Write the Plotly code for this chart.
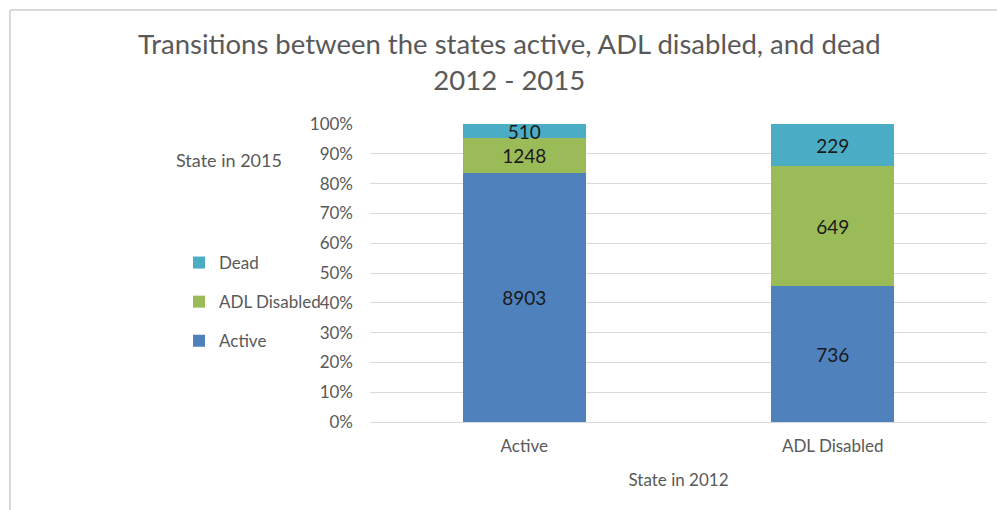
import plotly.graph_objects as go

# Counts of people by state in 2012 (categories) and state in 2015 (series)
states_2012 = ["Active", "ADL Disabled"]
active_2015 = [8903, 736]
adl_2015 = [1248, 649]
dead_2015 = [510, 229]
y_ticks = [0, 10, 20, 30, 40, 50, 60, 70, 80, 90, 100]
y_tick_text = [f"{v}%" for v in y_ticks]

FONT = "Lato"
TXT = "#595959"

W, H = 997, 510
L, R, T, B = 370, 10, 124, 88
pw, ph = W - L - R, H - T - B


def px_x(x):
    return (x - L) / pw


def px_y(y):
    return (H - B - y) / ph


# (name, values, colour, legend rank) - legend lists Dead first
series = [
    ("Active", active_2015, "#4f81bd", 3),
    ("ADL Disabled", adl_2015, "#9bbb59", 2),
    ("Dead", dead_2015, "#4bacc6", 1),
]

fig = go.Figure()
for name, vals, color, rank in series:
    fig.add_trace(go.Bar(
        name=name,
        x=states_2012,
        y=vals,
        text=vals,
        texttemplate="%{text}",
        textposition="inside",
        insidetextanchor="middle",
        constraintext="none",
        textfont=dict(family=FONT, size=19, color="#1a1a1a"),
        marker=dict(color=color, line=dict(width=0)),
        legendgroup=name,
        legendrank=rank,
    ))

fig.update_layout(
    width=W, height=H,
    margin=dict(l=L, r=R, t=T, b=B, pad=0),
    paper_bgcolor="white",
    plot_bgcolor="white",
    barmode="stack",
    barnorm="percent",
    bargap=0.6,
    font=dict(family=FONT, color=TXT, size=17),
    showlegend=True,
    legend=dict(
        x=px_x(179), y=px_y(302),
        xanchor="left", yanchor="middle",
        traceorder="grouped",
        tracegroupgap=14,
        font=dict(family=FONT, size=17, color=TXT),
        itemwidth=30,
        bgcolor="rgba(0,0,0,0)",
    ),
    xaxis=dict(
        showgrid=False, showline=False, ticks="",
        ticklabelstandoff=12,
        tickfont=dict(family=FONT, size=17, color=TXT),
        title=dict(text="State in 2012", standoff=19,
                   font=dict(family=FONT, size=17, color=TXT)),
    ),
    yaxis=dict(
        range=[0, 100],
        tickvals=y_ticks,
        ticktext=y_tick_text,
        showgrid=True, gridcolor="#d9d9d9", gridwidth=1,
        zeroline=True, zerolinecolor="#d9d9d9", zerolinewidth=1,
        showline=False, ticks="",
        ticklabelstandoff=16,
        tickfont=dict(family=FONT, size=17, color=TXT),
    ),
    annotations=[
        dict(text="Transitions between the states active, ADL disabled, and dead<br>2012 - 2015",
             xref="paper", yref="paper", x=px_x(509), y=px_y(62),
             xanchor="center", yanchor="middle", showarrow=False,
             font=dict(family=FONT, size=27.5, color=TXT)),
        dict(text="State in 2015",
             xref="paper", yref="paper", x=px_x(229), y=px_y(160),
             xanchor="center", yanchor="middle", showarrow=False,
             font=dict(family=FONT, size=18, color=TXT)),
    ],
    shapes=[
        dict(type="line", xref="paper", yref="paper",
             x0=px_x(10), x1=px_x(W), y0=px_y(10), y1=px_y(10),
             line=dict(color="#d9d9d9", width=2)),
        dict(type="line", xref="paper", yref="paper",
             x0=px_x(10), x1=px_x(10), y0=px_y(10), y1=px_y(H),
             line=dict(color="#d9d9d9", width=2)),
    ],
)

fig.write_html("out.html")
